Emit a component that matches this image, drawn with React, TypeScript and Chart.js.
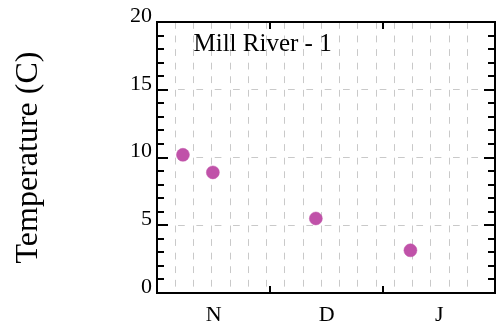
import React, { useEffect, useRef } from "react";
import { Chart, registerables } from "chart.js";

Chart.register(...registerables);

// Season day numbers: day 1 = 1 November.
const monthLabels = ["N", "D", "J"];
const monthStartDays = [0, 31, 62];
const axisEndDay = 92.56;
const gridStepDays = 5;
const lastGridDay = 85;

// Water temperature samples
const sampleDays = [7.1, 15.3, 43.5, 69.4];
const temperatures = [10.2, 8.9, 5.5, 3.15];

const tempMin = 0;
const tempMax = 20;
const tempStep = 5;

const siteName = "Mill River - 1";
const yTitle = "Temperature (C)";

const SERIF = "'Liberation Serif', 'Times New Roman', 'DejaVu Serif', serif";
const GRID_GREY = "#c9c9c9";
const POINT_COLOR = "#c052a9";

const monthCenters = monthStartDays.map((start, i) => {
  const end = i + 1 < monthStartDays.length ? monthStartDays[i + 1] : axisEndDay;
  return (start + end) / 2;
});

// Frame around the plot, inward tick marks and the site name inside the plot.
const framePlugin = {
  id: "frameAndTicks",
  afterDraw(chart: any) {
    const { ctx, chartArea: a, scales } = chart;
    const xs = scales.x;
    const ys = scales.y;
    ctx.save();
    ctx.strokeStyle = "#000";
    ctx.lineWidth = 2;
    ctx.strokeRect(a.left, a.top, a.right - a.left, a.bottom - a.top);

    const seg = (x1: number, y1: number, x2: number, y2: number) => {
      ctx.beginPath();
      ctx.moveTo(x1, y1);
      ctx.lineTo(x2, y2);
      ctx.stroke();
    };

    for (let v = tempMin; v <= tempMax; v += 1) {
      const py = Math.round(ys.getPixelForValue(v));
      const len = v % tempStep === 0 ? 11 : 7;
      seg(a.left, py, a.left + len, py);
      seg(a.right - len, py, a.right, py);
    }
    for (const d of monthStartDays.slice(1)) {
      const px = Math.round(xs.getPixelForValue(d));
      seg(px, a.bottom, px, a.bottom - 7);
      seg(px, a.top, px, a.top + 7);
    }

    ctx.fillStyle = "#000";
    ctx.font = `25px ${SERIF}`;
    ctx.textAlign = "left";
    ctx.textBaseline = "alphabetic";
    ctx.fillText(siteName, a.left + 36.5, a.top + 29);
    ctx.restore();
  },
};

export default function App() {
  const canvasRef = useRef<HTMLCanvasElement | null>(null);

  useEffect(() => {
    const canvas = canvasRef.current;
    if (!canvas) return;

    const chart = new Chart(canvas, {
      type: "scatter",
      data: {
        datasets: [
          {
            data: sampleDays.map((d, i) => ({ x: d, y: temperatures[i] })),
            backgroundColor: POINT_COLOR,
            borderColor: POINT_COLOR,
            borderWidth: 0.5,
            pointRadius: 6.5,
            xAxisID: "x",
            yAxisID: "y",
          },
        ],
      },
      options: {
        animation: false,
        responsive: true,
        maintainAspectRatio: false,
        layout: { padding: { left: 0, right: 5, top: 22, bottom: 0 } },
        plugins: {
          legend: { display: false },
          tooltip: { enabled: false },
        },
        scales: {
          x: {
            type: "linear",
            position: "bottom",
            min: 0,
            max: axisEndDay,
            afterBuildTicks: (s: any) => {
              s.ticks = monthCenters.map((v) => ({ value: v }));
            },
            afterFit: (s: any) => {
              s.height = 37;
            },
            ticks: {
              autoSkip: false,
              maxRotation: 0,
              padding: 9,
              color: "#000",
              font: { family: SERIF, size: 22 },
              callback: (_v: any, i: number) => monthLabels[i],
            },
            grid: { display: false, drawTicks: false },
            border: { display: false },
          },
          xGrid: {
            type: "linear",
            position: "top",
            min: 0,
            max: axisEndDay,
            z: 1,
            afterFit: (s: any) => {
              s.height = 0;
            },
            ticks: { display: false, stepSize: gridStepDays },
            grid: {
              drawTicks: false,
              lineWidth: 1,
              color: (c: any) => {
                const v = c.tick ? c.tick.value : 0;
                return v > 0 && v <= lastGridDay && v % gridStepDays === 0
                  ? GRID_GREY
                  : "rgba(0,0,0,0)";
              },
            },
            border: { display: false, dash: [6.8, 6.77] },
          },
          y: {
            type: "linear",
            position: "left",
            min: tempMin,
            max: tempMax,
            z: 1,
            afterFit: (s: any) => {
              s.width = 157;
            },
            ticks: {
              stepSize: tempStep,
              padding: 5,
              labelOffset: -6,
              color: "#000",
              font: { family: SERIF, size: 22 },
            },
            grid: {
              drawTicks: false,
              lineWidth: 1,
              color: (c: any) => {
                const v = c.tick ? c.tick.value : 0;
                return v > tempMin && v < tempMax ? GRID_GREY : "rgba(0,0,0,0)";
              },
            },
            border: { display: false, dash: [6.7, 11.63], dashOffset: 15.6 },
            title: {
              display: true,
              text: yTitle,
              color: "#000",
              font: { family: SERIF, size: 32 },
              padding: { top: 9, bottom: 0 },
            },
          },
        },
      } as any,
      plugins: [framePlugin],
    });

    return () => chart.destroy();
  }, []);

  return (
    <div style={{ position: "absolute", left: 0, top: 0, width: 502, height: 330 }}>
      <canvas ref={canvasRef} />
    </div>
  );
}
